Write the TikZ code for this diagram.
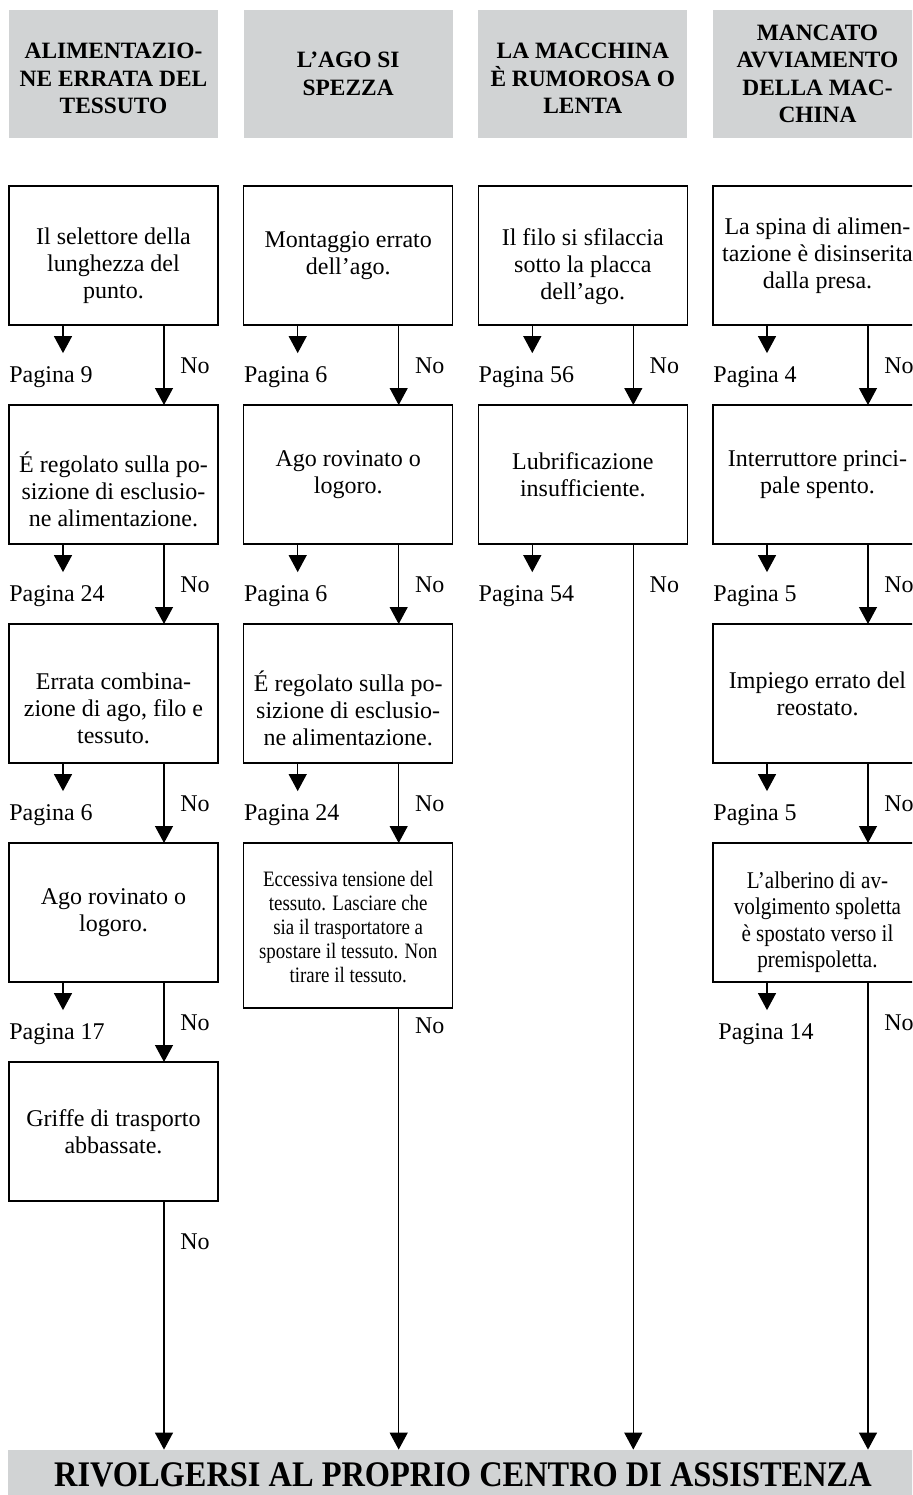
\documentclass[tikz,border=0pt]{standalone}
\usepackage{fontspec}
\setmainfont{Liberation Serif}
\newfontfamily\stretto[FakeStretch=0.86]{Liberation Serif}
\newfontfamily\strettoa[FakeStretch=0.88]{Liberation Serif}
\newfontfamily\strettob[FakeStretch=0.9]{Liberation Serif}
\usepackage{xcolor}
\usepackage{tikz}
\usetikzlibrary{arrows.meta, positioning}
\definecolor{grigio}{RGB}{209,211,212}
% Puntello invisibile: alza la prima riga e abbassa il testo nel riquadro
\newcommand{\spinta}[1]{\rule{0pt}{#1}}

\begin{document}
\begin{tikzpicture}[x=0.5pt, y=-0.5pt, >={Triangle[width=9pt,length=8.5pt]},
    titolo/.style={fill=grigio, minimum width=104.5pt, minimum height=64pt, inner sep=0pt, outer sep=0pt,
        align=center, font=\fontsize{11.7pt}{13.75pt}\selectfont\bfseries},
    domanda/.style={draw, line width=0.75pt, minimum width=104.5pt, minimum height=69.5pt, inner sep=0pt,
        outer sep=0pt, align=center, font=\fontsize{12pt}{13.5pt}\selectfont},
    etichetta/.style={anchor=base west, inner sep=0pt, font=\fontsize{12pt}{13.5pt}\selectfont},
    linea/.style={line width=0.6pt}]
    % Cornice della pagina
    \useasboundingbox (0,0) rectangle (912,1495);
    \clip (0,0) rectangle (912,1495);

    % Titoli delle quattro colonne
    \node[titolo] (h1) at (113.5,74) {\spinta{12.2pt}ALIMENTAZIO-\\NE ERRATA DEL\\TESSUTO};
    \node[titolo] (h2) at (348.2,74) {L’AGO SI\\SPEZZA};
    \node[titolo] (h3) at (582.8,74) {\spinta{12pt}LA MACCHINA\\È RUMOROSA O\\LENTA};
    \node[titolo] (h4) at (817.5,74) {MANCATO\\AVVIAMENTO\\DELLA MAC-\\CHINA};

    % Colonna 1: alimentazione errata del tessuto
    \node[domanda, below=24pt of h1] (a1) {\spinta{18.1pt}Il selettore della\\lunghezza del\\punto.};
    \node[domanda, below=40pt of a1] (a2) {\spinta{25.3pt}É regolato sulla po-\\sizione di esclusio-\\ne alimentazione.};
    \node[domanda, below=40pt of a2] (a3) {\spinta{23.1pt}Errata combina-\\zione di ago, filo e\\tessuto.};
    \node[domanda, below=40pt of a3] (a4) {Ago rovinato o\\logoro.};
    \node[domanda, below=40pt of a4] (a5) {Griffe di trasporto\\abbassate.};

    % Colonna 2: l'ago si spezza
    \node[domanda, below=24pt of h2] (b1) {Montaggio errato\\dell’ago.};
    \node[domanda, below=40pt of b1] (b2) {Ago rovinato o\\logoro.};
    \node[domanda, below=40pt of b2] (b3) {\spinta{25.3pt}É regolato sulla po-\\sizione di esclusio-\\ne alimentazione.};
    \node[domanda, below=40pt of b3, minimum height=82.5pt, font=\stretto\fontsize{11pt}{12pt}\selectfont] (b4)
        {\spinta{9pt}Eccessiva tensione del\\tessuto. Lasciare che\\sia il trasportatore a\\spostare il tessuto. Non\\tirare il tessuto.};

    % Colonna 3: macchina rumorosa o lenta
    \node[domanda, below=24pt of h3] (c1) {\spinta{19.1pt}Il filo si sfilaccia\\sotto la placca\\dell’ago.};
    \node[domanda, below=40pt of c1] (c2) {Lubrificazione\\insufficiente.};

    % Colonna 4: mancato avviamento
    \node[domanda, below=24pt of h4] (d1) {La spina di alimen-\\tazione è disinserita\\dalla presa.};
    \node[domanda, below=40pt of d1] (d2) {Interruttore princi-\\pale spento.};
    \node[domanda, below=40pt of d2] (d3) {Impiego errato del\\reostato.};
    \node[domanda, below=40pt of d3, font=\strettoa\fontsize{12pt}{13.3pt}\selectfont] (d4)
        {\spinta{18.1pt}L’alberino di av-\\volgimento spoletta\\è spostato verso il\\premispoletta.};

    % Fascia finale
    \node[fill=grigio, minimum width=455pt, minimum height=25pt, inner sep=0pt,
        font=\strettob\fontsize{18pt}{20pt}\selectfont\bfseries] (centro) at (463,1475)
        {RIVOLGERSI AL PROPRIO CENTRO DI ASSISTENZA};

    % Rimandi alle pagine
    \foreach \q/\p/\n in {a1/pa1/9, a2/pa2/24, a3/pa3/6, a4/pa4/17, b1/pb1/6, b2/pb2/6, b3/pb3/24,
        c1/pc1/56, c2/pc2/54, d1/pd1/4, d2/pd2/5, d3/pd3/5}
        \node[etichetta] (\p) at ([yshift=-28.5pt]\q.south west) {Pagina \n};
    \node[etichetta] (pd4) at ([xshift=2.5pt, yshift=-28.5pt]d4.south west) {Pagina 14};
    \foreach \q/\p in {a1/pa1, a2/pa2, a3/pa3, a4/pa4, b1/pb1, b2/pb2, b3/pb3, c1/pc1, c2/pc2,
        d1/pd1, d2/pd2, d3/pd3, d4/pd4}
        \draw[linea, ->, shorten >=6.3pt] ([xshift=-25.25pt]\q.south) -- ([xshift=-25.25pt]\q.south |- \p.north);

    % Risposte "No"
    \foreach \q/\r in {a1/na1, a2/na2, a3/na3, a4/na4, a5/na5, b1/nb1, b2/nb2, b3/nb3, c1/nc1, c2/nc2,
        d1/nd1, d2/nd2, d3/nd3, d4/nd4}
        \node[etichetta] (\r) at ([xshift=85.5pt, yshift=-24pt]\q.south west) {No};
    \node[etichetta] (nb4) at ([xshift=85.5pt, yshift=-12.5pt]b4.south west) {No};
    \foreach \s/\t in {a1/a2, a2/a3, a3/a4, a4/a5, b1/b2, b2/b3, b3/b4, c1/c2, d1/d2, d2/d3, d3/d4}
        \draw[linea, ->] ([xshift=25.25pt]\s.south) -- ([xshift=25.25pt]\t.north);
    \foreach \s in {a5, b4, c2, d4}
        \draw[linea, ->] ([xshift=25.25pt]\s.south) -- ([xshift=25.25pt]\s.south |- centro.north);
\end{tikzpicture}
\end{document}
